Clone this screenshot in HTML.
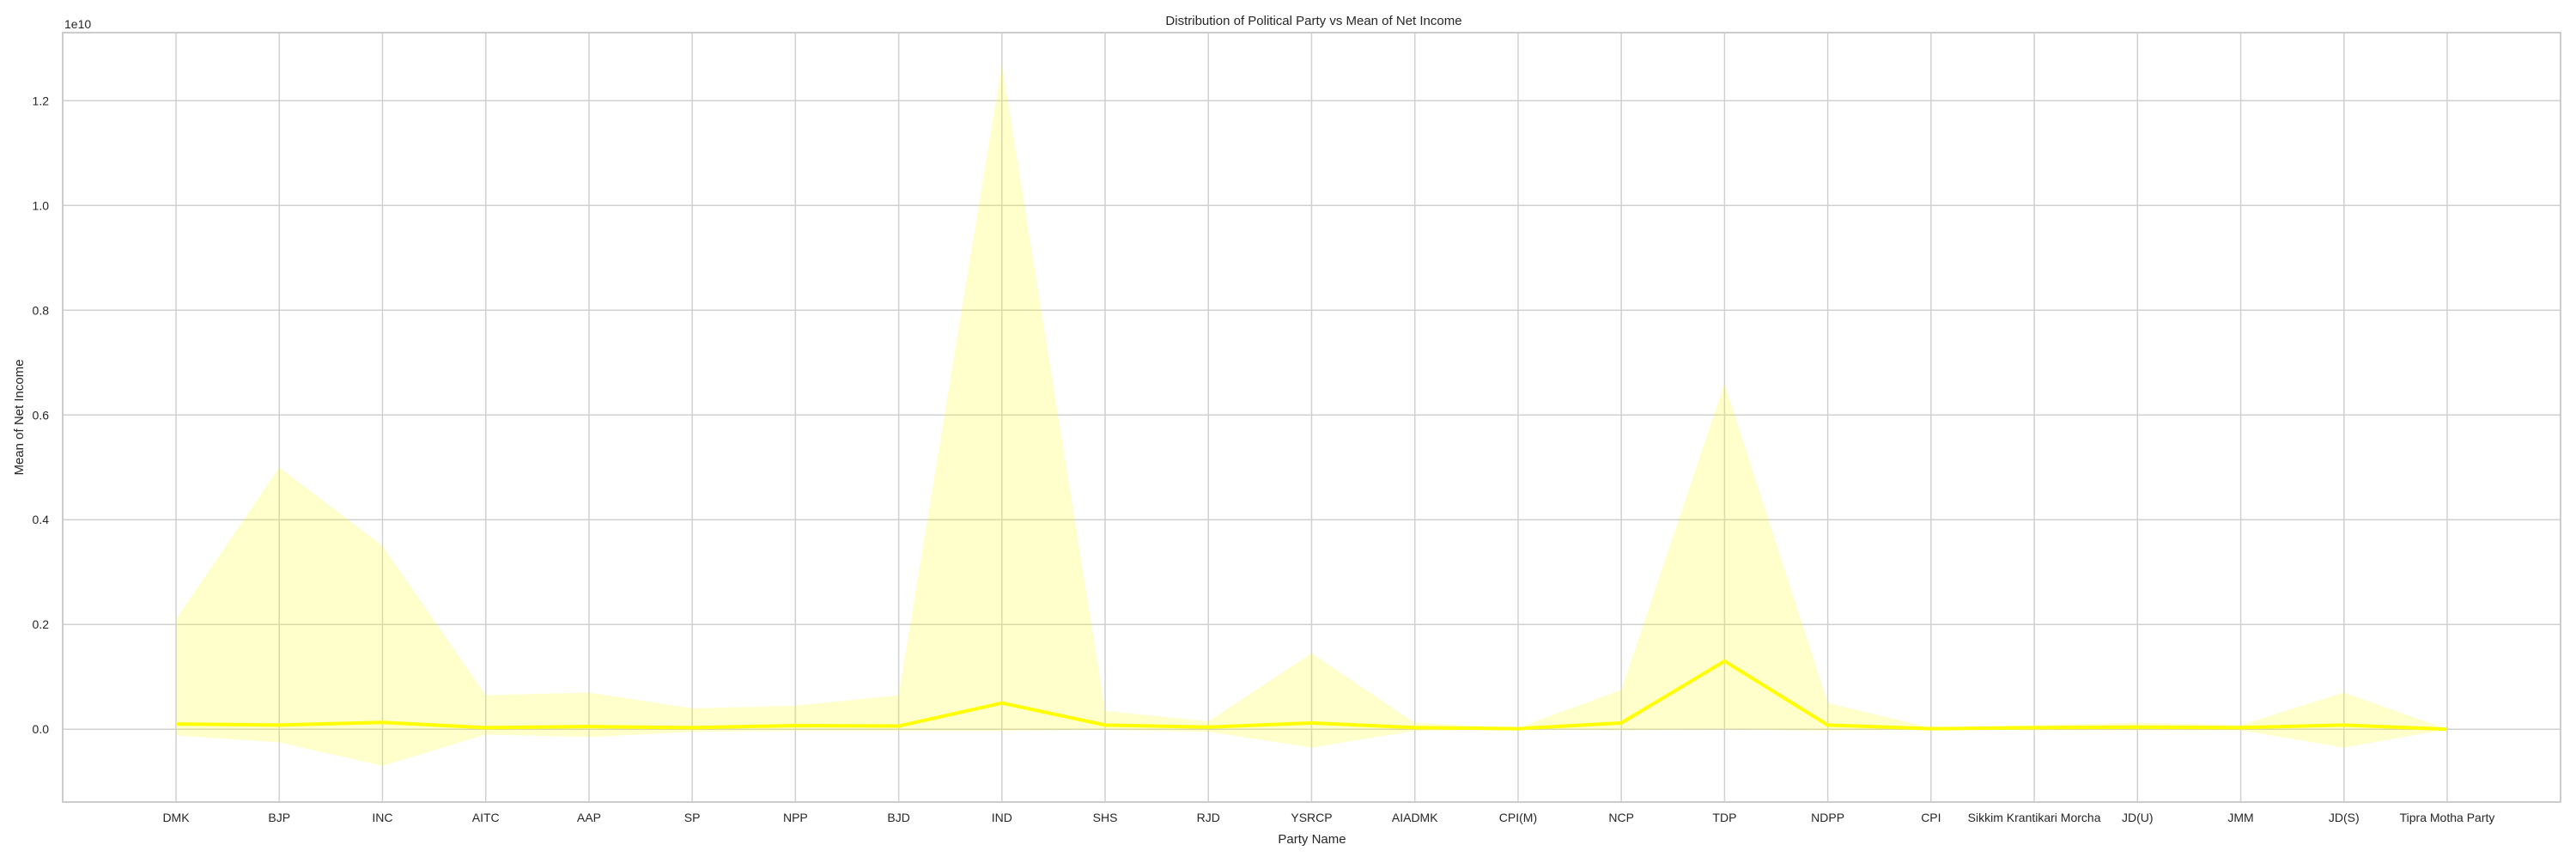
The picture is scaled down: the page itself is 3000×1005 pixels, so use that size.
<!DOCTYPE html>
<html><head><meta charset="utf-8"><style>
html,body{margin:0;padding:0;background:#fff;}
svg text{font-family:"Liberation Sans",Arial,sans-serif;fill:#262626;}
</style></head><body>
<svg id="chart" width="3000" height="1000" xmlns="http://www.w3.org/2000/svg">
<rect width="3000" height="1000" fill="#fff"/>
<text x="1530" y="29" font-size="15" text-anchor="middle">Distribution of Political Party vs Mean of Net Income</text>
<text x="1528" y="982" font-size="15" text-anchor="middle">Party Name</text>
<text transform="translate(27,486) rotate(-90)" font-size="15" text-anchor="middle">Mean of Net Income</text>
<text x="75" y="33" font-size="14">1e10</text>
<g id="grid"></g><g id="marks"></g><g id="labels"></g>
<rect x="73" y="38" width="2909" height="896" fill="none" stroke="#ccc" stroke-width="2"/>
</svg>
<script>
const categories=["DMK","BJP","INC","AITC","AAP","SP","NPP","BJD","IND","SHS","RJD","YSRCP","AIADMK","CPI(M)","NCP","TDP","NDPP","CPI","Sikkim Krantikari Morcha","JD(U)","JMM","JD(S)","Tipra Motha Party"];
const meanValues=[0.010,0.008,0.013,0.003,0.005,0.003,0.007,0.006,0.050,0.008,0.004,0.012,0.003,0.001,0.012,0.130,0.008,0.001,0.003,0.004,0.003,0.008,0.000];
const upperValues=[0.21,0.50,0.35,0.065,0.07,0.04,0.045,0.065,1.27,0.035,0.015,0.145,0.012,0.003,0.075,0.66,0.05,0.003,0.008,0.012,0.008,0.07,0.0];
const lowerValues=[-0.012,-0.025,-0.07,-0.01,-0.015,-0.005,-0.003,-0.003,-0.003,-0.001,-0.005,-0.035,-0.003,0,-0.002,0,-0.003,0,-0.002,-0.002,-0.002,-0.035,0];
const yTicks=[0.0,0.2,0.4,0.6,0.8,1.0,1.2];
const yTickLabels=["0.0","0.2","0.4","0.6","0.8","1.0","1.2"];
const L=73,R=2982,T=38,B=934,ymin=-0.139,ymax=1.33;
const x=i=>205+(2850-205)*i/(categories.length-1);
const y=v=>B-(v-ymin)/(ymax-ymin)*(B-T);
const NS="http://www.w3.org/2000/svg";
const mk=(t,p,a)=>{const e=document.createElementNS(NS,t);for(const k in a)e.setAttribute(k,a[k]);p.appendChild(e);return e;};
const grid=document.getElementById('grid'),marks=document.getElementById('marks'),labels=document.getElementById('labels');
yTicks.forEach((v,i)=>{
 const g=mk('line',grid,{x1:L,x2:R,y1:y(v),y2:y(v),stroke:'#d0d0d0','stroke-width':1.5});
 
 
 const t=mk('text',labels,{x:L-16,y:y(v)+5,'font-size':14,'text-anchor':'end'});
 t.textContent=yTickLabels[i];
 
 
});
categories.forEach((c,i)=>{
 const g=mk('line',grid,{x1:x(i),x2:x(i),y1:T,y2:B,stroke:'#d0d0d0','stroke-width':1.5});
 
 
 const t=mk('text',labels,{x:x(i),y:B+23,'font-size':14,'text-anchor':'middle'});
 t.textContent=c;
 
 
});
let d=upperValues.map((v,i)=>(i?'L':'M')+x(i)+','+y(v)).join('');
for(let i=lowerValues.length-1;i>=0;i--)d+='L'+x(i)+','+y(lowerValues[i]);
const band=mk('path',marks,{d:d+'Z',fill:'#ffff00','fill-opacity':0.2,stroke:'none'});


const line=mk('polyline',marks,{points:meanValues.map((v,i)=>x(i)+','+y(v)).join(' '),fill:'none',stroke:'#ffff00','stroke-width':4});


</script>
</body></html>
